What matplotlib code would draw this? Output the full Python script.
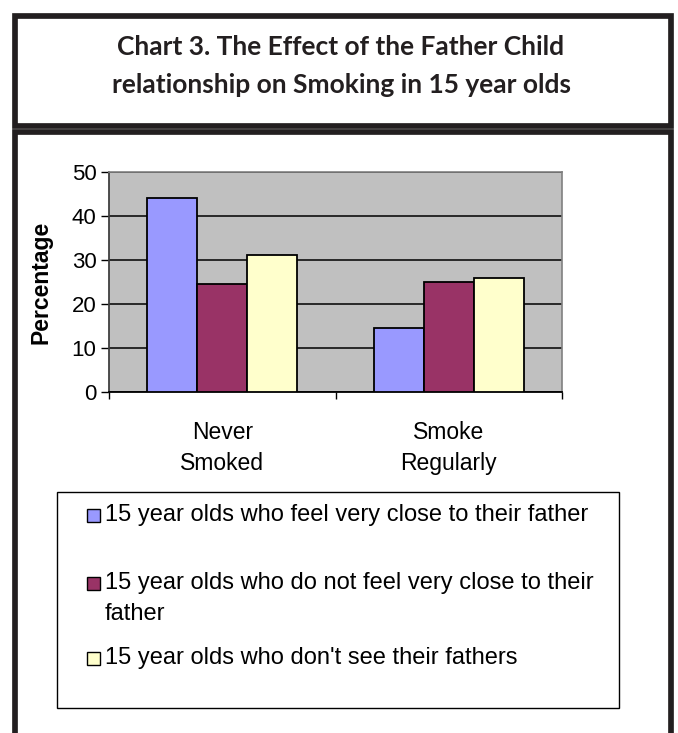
import matplotlib
matplotlib.use("Agg")
import numpy as np
import matplotlib.pyplot as plt
from matplotlib.patches import Rectangle

# ---- data -------------------------------------------------------------
categories = ["Never\nSmoked", "Smoke\nRegularly"]
series_labels = [
    "15 year olds who feel very close to their father",
    "15 year olds who do not feel very close to their\nfather",
    "15 year olds who don't see their fathers",
]
close_to_father = [44.0, 14.5]
not_close_to_father = [24.5, 24.9]
never_see_father = [31.2, 25.9]
y_ticks = [0, 10, 20, 30, 40, 50]
title_text = ("Chart 3. The Effect of the Father Child\n"
              "relationship on Smoking in 15 year olds")

series_values = [close_to_father, not_close_to_father, never_see_father]
series_colors = ["#9999FF", "#993366", "#FFFFCC"]

# ---- figure -----------------------------------------------------------
W, H = 678, 733
fig = plt.figure(figsize=(W / 100, H / 100), dpi=100)
fig.patch.set_facecolor("white")
ink = "#231f20"
body_font = "Liberation Sans"


def fx(px):
    return px / W


def fy(py):
    return 1 - py / H


def frame(x0, y0, x1, y1, lw=4.1, color=ink):
    fig.patches.append(Rectangle((fx(x0), fy(y1)), fx(x1) - fx(x0), fy(y0) - fy(y1),
                                 transform=fig.transFigure, fill=False,
                                 edgecolor=color, linewidth=lw, zorder=5))


# outer boxes: title panel and chart panel
frame(15, 16, 671, 125.5)
frame(15, 132, 671, 760)

fig.text(fx(341), fy(66), title_text, ha="center", va="center",
         fontsize=19, fontweight="bold", family="Lato", color=ink,
         linespacing=1.68)

# ---- bar chart --------------------------------------------------------
ax = fig.add_axes([fx(109), fy(392), fx(562) - fx(109), fy(172) - fy(392)])
ax.set_facecolor("#C0C0C0")

x = np.arange(len(categories))
bar_w = 0.221
for i, (vals, col) in enumerate(zip(series_values, series_colors)):
    ax.bar(x + (i - 1) * bar_w, vals, width=bar_w, color=col,
           edgecolor="black", linewidth=1.3, zorder=3)

ax.set_xlim(-0.5, 1.5)
ax.set_ylim(0, 50)
ax.set_yticks(y_ticks)
ax.set_yticklabels([str(t) for t in y_ticks], fontsize=16, family=body_font)
ax.yaxis.grid(True, color="black", linewidth=1.1)
ax.set_axisbelow(True)

ax.set_xticks([-0.5, 0.5, 1.5])
ax.set_xticklabels([])
ax.set_xticks(x, minor=True)
ax.set_xticklabels(categories, minor=True, fontsize=16.5, family=body_font,
                   linespacing=1.45)
ax.tick_params(axis="x", which="major", length=5, width=1, direction="out")
ax.tick_params(axis="x", which="minor", length=0, pad=21)
ax.tick_params(axis="y", length=6, width=1, direction="out", pad=3)

for side in ("top", "right"):
    ax.spines[side].set_color("#808080")
    ax.spines[side].set_linewidth(1.2)
ax.spines["left"].set_color("#404040")
ax.spines["left"].set_linewidth(1.3)
ax.spines["bottom"].set_color("black")
ax.spines["bottom"].set_linewidth(1.3)

ax.set_ylabel("Percentage", fontsize=16.5, fontweight="bold", family=body_font,
              va="center")
ax.yaxis.set_label_coords((41 - 109) / 453, 0.5)

# ---- legend -----------------------------------------------------------
frame(57, 492, 619, 708, lw=1.0, color="black")
entry_y = [515, 583, 658]
for lab, col, yy in zip(series_labels, series_colors, entry_y):
    fig.patches.append(Rectangle((fx(86.5), fy(yy + 6.5)), fx(13), 13 / H,
                                 transform=fig.transFigure, facecolor=col,
                                 edgecolor="black", linewidth=1.0, zorder=6))
    top = yy - 11
    fig.text(fx(105), fy(top), lab, ha="left", va="top",
             fontsize=17, family=body_font, color="black", linespacing=1.55)

fig.savefig("out.png", dpi=100)
